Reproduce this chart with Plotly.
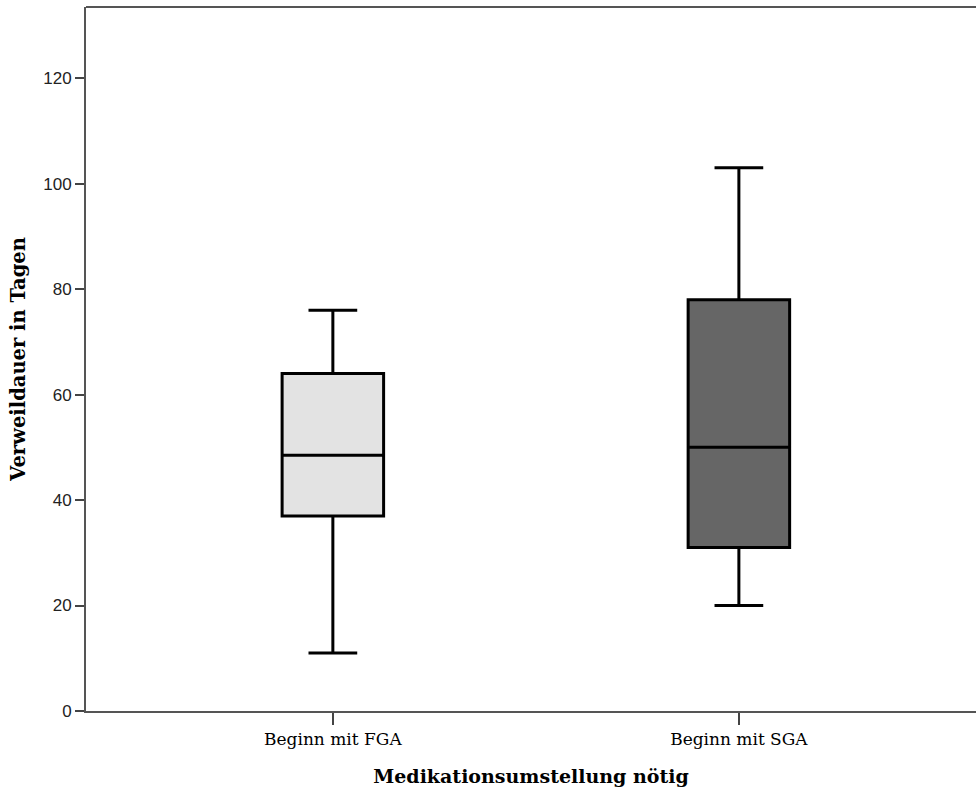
import plotly.graph_objects as go

# Group labels and five-number summaries (days of stay)
groups = ["Beginn mit FGA", "Beginn mit SGA"]
lower_whisker = [11, 20]
q1 = [37, 31]
median = [48.5, 50]
q3 = [64, 78]
upper_whisker = [76, 103]
fill_colors = ["#E3E3E3", "#666666"]

y_ticks = [0, 20, 40, 60, 80, 100, 120]

fig = go.Figure()
for i, g in enumerate(groups):
    fig.add_trace(go.Box(
        x=[i],
        q1=[q1[i]], median=[median[i]], q3=[q3[i]],
        lowerfence=[lower_whisker[i]], upperfence=[upper_whisker[i]],
        width=0.25,
        whiskerwidth=0.48,
        fillcolor=fill_colors[i],
        line=dict(color="black", width=3),
        boxpoints=False,
        showlegend=False,
        hoverinfo="skip",
    ))

# top frame line (the right side of the frame is left open)
fig.add_shape(type="line", xref="paper", yref="paper", x0=0, x1=1, y0=1, y1=1,
              line=dict(color="#555", width=2))

fig.update_layout(
    width=976, height=791,
    margin=dict(l=86, r=0, t=7, b=80),
    paper_bgcolor="white", plot_bgcolor="white",
    xaxis=dict(
        range=[-0.608, 1.584],
        tickmode="array", tickvals=[0, 1], ticktext=groups,
        ticks="outside", ticklen=12, tickwidth=2, tickcolor="#444",
        showline=True, linecolor="#555", linewidth=2, mirror=False,
        showgrid=False, zeroline=False,
        tickfont=dict(family="DejaVu Serif", size=17, color="black"),
        title=dict(text="Medikationsumstellung nötig", standoff=21,
                   font=dict(family="DejaVu Serif", size=19, color="black", weight="bold")),
    ),
    yaxis=dict(
        range=[0, 133.5],
        tickmode="array", tickvals=y_ticks,
        ticks="outside", ticklen=9, tickwidth=2, tickcolor="#444",
        showline=True, linecolor="#555", linewidth=2, mirror=False,
        showgrid=False, zeroline=False,
        tickfont=dict(family="Liberation Sans", size=17, color="#222"),
        title=dict(text="Verweildauer in Tagen", standoff=12,
                   font=dict(family="DejaVu Serif", size=19.5, color="black", weight="bold")),
    ),
)

fig.write_html("out.html", config={"displayModeBar": False})
